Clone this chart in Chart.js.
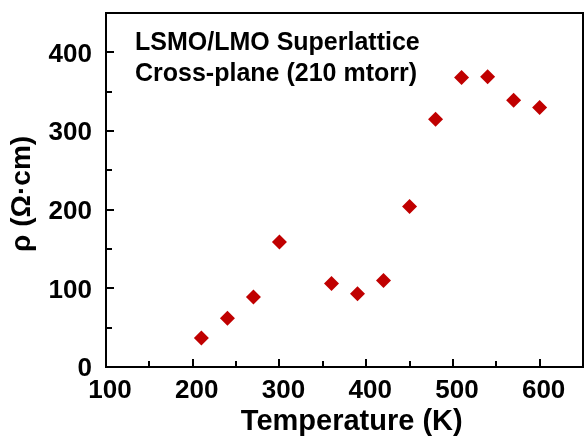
<!DOCTYPE html>
<html>
<head>
<meta charset="utf-8">
<script src="https://cdn.jsdelivr.net/npm/chart.js@4.4.0/dist/chart.umd.min.js"></script>
<style>
  html, body { margin: 0; padding: 0; background: #fff; overflow: hidden; }
  canvas { display: block; }
</style>
</head>
<body>
<canvas id="c" width="584" height="436"></canvas>
<script>
// datos
const temps = [210, 240, 270, 300, 360, 390, 420, 450, 480, 510, 540, 570, 600];
const rho   = [37, 62, 89, 159, 106, 93, 110, 204, 315, 368, 369, 339, 330];

const xMajor = [100, 200, 300, 400, 500, 600];
const xMinor = [150, 250, 350, 450, 550];
const yMajor = [0, 100, 200, 300, 400];
const yMinor = [50, 150, 250, 350];

const note = ['LSMO/LMO Superlattice', 'Cross-plane (210 mtorr)'];

const FONT = '"Liberation Sans", Arial, sans-serif';

// caja y ticks hacia adentro
const framePlugin = {
  id: 'frame',
  afterDraw(chart) {
    const {ctx, chartArea: a, scales: {x, y}} = chart;
    ctx.save();
    ctx.strokeStyle = '#000';
    ctx.lineWidth = 2;
    ctx.strokeRect(a.left, a.top, a.right - a.left, a.bottom - a.top);
    ctx.beginPath();
    xMajor.forEach(v => { const px = Math.round(x.getPixelForValue(v)); ctx.moveTo(px, a.bottom); ctx.lineTo(px, a.bottom - 8); });
    xMinor.forEach(v => { const px = Math.round(x.getPixelForValue(v)); ctx.moveTo(px, a.bottom); ctx.lineTo(px, a.bottom - 6); });
    yMajor.forEach(v => { const py = Math.round(y.getPixelForValue(v)); ctx.moveTo(a.left, py); ctx.lineTo(a.left + 8, py); });
    yMinor.forEach(v => { const py = Math.round(y.getPixelForValue(v)); ctx.moveTo(a.left, py); ctx.lineTo(a.left + 6, py); });
    ctx.stroke();

    ctx.fillStyle = '#000';
    ctx.font = 'bold 25px ' + FONT;
    ctx.textBaseline = 'middle';
    ctx.textAlign = 'left';
    note.forEach((t, i) => ctx.fillText(t, a.left + 29, a.top + 30 + i * 31));
    ctx.restore();
  }
};

const ctx = document.getElementById('c').getContext('2d');
const chart = new Chart(ctx, {
  type: 'scatter',
  data: {
    datasets: [{
      data: temps.map((t, i) => ({x: t, y: rho[i]})),
      pointStyle: 'rectRot',
      pointRadius: 7.5,
      pointHoverRadius: 7.5,
      backgroundColor: '#c00000',
      borderColor: '#c00000',
      borderWidth: 0
    }]
  },
  options: {
    responsive: false,
    animation: false,
    layout: { autoPadding: false, padding: { top: 13, right: 1, left: 0, bottom: 0 } },
    plugins: { legend: { display: false }, tooltip: { enabled: false } },
    scales: {
      x: {
        type: 'linear',
        min: 100, max: 650,
        afterFit: s => { s.height = 69; s.paddingLeft = 0; s.paddingRight = 0; },
        grid: { display: false, drawTicks: false },
        border: { display: false },
        ticks: {
          stepSize: 50,
          padding: 8,
          labelOffset: 4,
          maxRotation: 0,
          autoSkip: false,
          color: '#000',
          font: { family: FONT, size: 26, weight: 'bold' },
          callback: v => (v % 100 === 0 && v <= 600) ? v : ''
        },
        title: {
          display: true,
          text: '\u2002Temperature (K)',
          color: '#000',
          padding: { top: 0, bottom: 0 },
          font: { family: FONT, size: 29, weight: 'bold', lineHeight: 1 }
        }
      },
      y: {
        type: 'linear',
        min: 0, max: 450,
        afterFit: s => { s.width = 106; s.paddingTop = 0; s.paddingBottom = 0; },
        grid: { display: false, drawTicks: false },
        border: { display: false },
        ticks: {
          stepSize: 50,
          padding: 14,
          labelOffset: 2,
          autoSkip: false,
          color: '#000',
          font: { family: FONT, size: 26, weight: 'bold' },
          callback: v => (v % 100 === 0 && v <= 400) ? v : ''
        },
        title: {
          display: true,
          text: 'ρ (Ω·cm) ',
          color: '#000',
          padding: { top: 8, bottom: 0 },
          font: { family: FONT, size: 28, weight: 'bold', lineHeight: 1 }
        }
      }
    }
  },
  plugins: [framePlugin]
});
</script>
</body>
</html>
